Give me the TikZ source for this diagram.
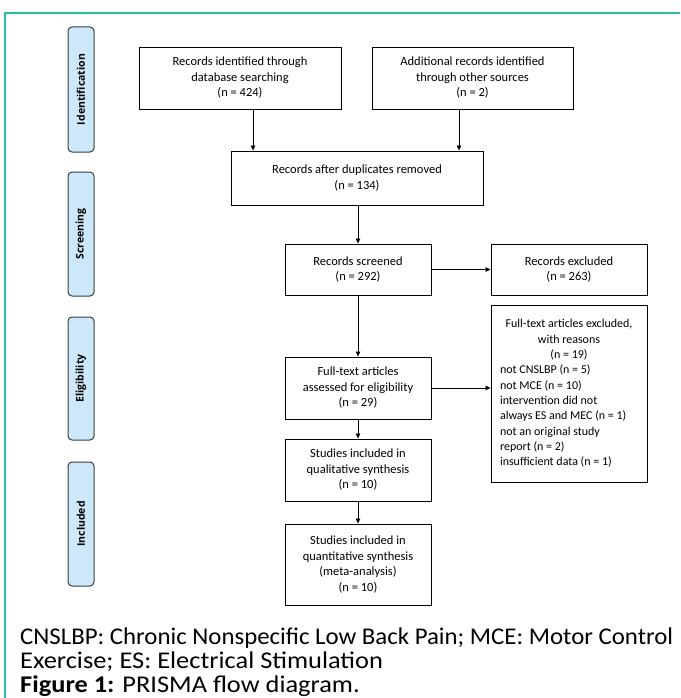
\documentclass[tikz,border=0pt]{standalone}
\usepackage{fontspec}
\setmainfont{Carlito}
\newfontfamily\labelfont{Open Sans}
\usetikzlibrary{arrows.meta}
\definecolor{frameteal}{RGB}{38,190,165}
\definecolor{sidefill}{RGB}{204,232,250}
\definecolor{sideline}{RGB}{60,60,60}
\begin{document}
\begin{tikzpicture}[x=1pt,y=-1pt,
  box/.style={draw=black, line width=0.9pt, fill=white, inner sep=0pt, align=center,
              font=\fontsize{12.5}{15.5}\selectfont},
  side/.style={draw=sideline, fill=sidefill, rounded corners=4pt, line width=1pt, inner sep=0pt,
               rotate=90, minimum height=26pt, font=\labelfont\bfseries\fontsize{10.5}{12}\selectfont},
  arr/.style={-{Triangle[length=5pt,width=4.5pt]}, line width=0.8pt},
  captext/.style={anchor=base west, inner sep=0pt, font=\fontsize{24}{25}\selectfont}]
\useasboundingbox (0,0) rectangle (680,698);
\draw[frameteal, line width=1.5pt] (5,698) -- (5,13) -- (680,13);

% phase labels
\node[side, minimum width=125pt] (sid) at (81,89.5) {Identification};
\node[side, minimum width=124pt] (sscr) at (81,234) {Screening};
\node[side, minimum width=123pt] (selig) at (81,378.5) {Eligibility};
\node[side, minimum width=124pt] (sinc) at (81,524) {Included};

% boxes
\node[box, minimum width=202pt, minimum height=62pt] (b1) at (240,78)
  {Records identified through\\database searching\\(n = 424)};
\node[box, minimum width=201pt, minimum height=62pt] (b2) at (472.5,78)
  {Additional records identified\\through other sources\\(n = 2)};
\node[box, minimum width=252pt, minimum height=54pt] (b3) at (357,178)
  {Records after duplicates removed\\(n = 134)};
\node[box, minimum width=146pt, minimum height=51pt] (b4) at (358,269.5)
  {Records screened\\(n = 292)};
\node[box, minimum width=156pt, minimum height=51pt] (b5) at (569,269.5)
  {Records excluded\\(n = 263)};
\node[box, minimum width=156pt, minimum height=177pt, font=\fontsize{12}{15.3}\selectfont] (b6) at (569,393.5)
  {\begin{minipage}{138pt}\fontsize{12}{15.3}\selectfont
   \centering Full-text articles excluded,\\with reasons\\(n = 19)\par
   \raggedright not CNSLBP (n = 5)\\not MCE (n = 10)\\intervention did not\\always ES and MEC (n = 1)\\not an original study\\report (n = 2)\\insufficient data (n = 1)\par
   \end{minipage}};
\node[box, minimum width=146pt, minimum height=62pt] (b7) at (358,388)
  {Full-text articles\\assessed for eligibility\\(n = 29)};
\node[box, minimum width=146pt, minimum height=62pt] (b8) at (358,470)
  {Studies included in\\qualitative synthesis\\(n = 10)};
\node[box, minimum width=146pt, minimum height=81pt] (b9) at (358,564.5)
  {Studies included in\\quantitative synthesis\\(meta-analysis)\\(n = 10)};

% connectors
\coordinate (x1) at (253,0);
\coordinate (x2) at (459,0);
\draw[arr] (b1.south -| x1) -- (b3.north -| x1);
\draw[arr] (b2.south -| x2) -- (b3.north -| x2);
\draw[arr] (b3.south -| b4.north) -- (b4.north);
\draw[arr] (b4.east) -- (b5.west |- b4.east);
\draw[arr] (b4.south) -- (b7.north);
\draw[arr] (b7.east) -- (b6.west |- b7.east);
\draw[arr] (b7.south) -- (b8.north);
\draw[arr] (b8.south) -- (b9.north);

% caption
\node[captext] (c1) at (20,644)
  {\resizebox{653pt}{\height}{CNSLBP: Chronic Nonspecific Low Back Pain; MCE: Motor Control}};
\node[captext] (c2) at (20,668) {\scalebox{1.1}[1]{Exercise; ES: Electrical Stimulation}};
\node[captext] (c3) at (20,692) {\scalebox{1.1}[1]{\textbf{Figure 1:} PRISMA flow diagram.}};
\end{tikzpicture}
\end{document}
